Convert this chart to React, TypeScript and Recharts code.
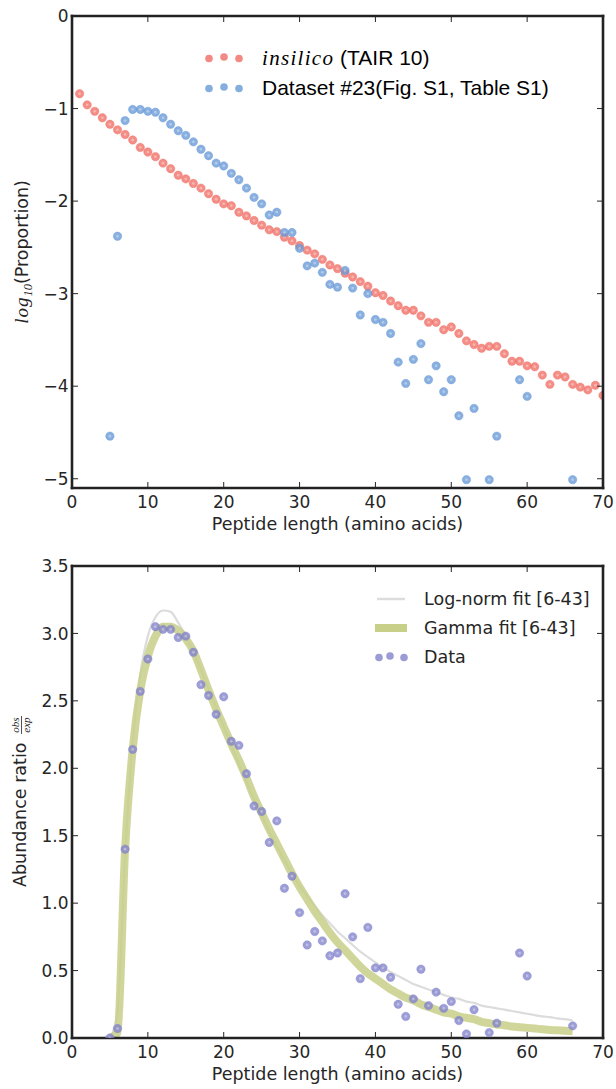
import React from 'react';
import {
  ScatterChart,
  ComposedChart,
  Scatter,
  Line,
  XAxis,
  YAxis,
  Legend,
  Label,
} from 'recharts';

const INK = '#262626';
const SANS = 'DejaVu Sans, sans-serif';
const RED = '#ef6d64';
const BLUE = '#6699d6';
const PURPLE = '#8282cc';
const GAMMA = '#c8cf88';
const LOGNORM = '#dcdcdc';

// ---- top panel: log10(proportion) by peptide length ----
const insilicoLengths = [
  1, 2, 3, 4, 5, 6, 7, 8, 9, 10, 11, 12, 13, 14, 15, 16, 17, 18, 19, 20,
  21, 22, 23, 24, 25, 26, 27, 28, 29, 30, 31, 32, 33, 34, 35, 36, 37, 38, 39, 40,
  41, 42, 43, 44, 45, 46, 47, 48, 49, 50, 51, 52, 53, 54, 55, 56, 57, 58, 59, 60,
  61, 62, 63, 64, 65, 66, 67, 68, 69, 70,
];
const insilicoLog = [
  -0.84, -0.96, -1.03, -1.1, -1.17, -1.23, -1.28, -1.34, -1.42, -1.47,
  -1.52, -1.59, -1.65, -1.72, -1.76, -1.81, -1.86, -1.92, -1.98, -2.03,
  -2.05, -2.12, -2.16, -2.21, -2.26, -2.31, -2.33, -2.39, -2.43, -2.48,
  -2.53, -2.57, -2.63, -2.69, -2.73, -2.78, -2.82, -2.87, -2.92, -2.99,
  -3.02, -3.08, -3.13, -3.18, -3.18, -3.24, -3.31, -3.31, -3.39, -3.36,
  -3.43, -3.51, -3.55, -3.59, -3.57, -3.57, -3.65, -3.73, -3.73, -3.78,
  -3.79, -3.88, -3.98, -3.88, -3.9, -3.98, -4.01, -4.04, -3.99, -4.1,
];

const datasetLengths = [
  5, 6, 7, 8, 9, 10, 11, 12, 13, 14, 15, 16, 17, 18, 19, 20, 21, 22, 23, 24,
  25, 26, 27, 28, 29, 30, 31, 32, 33, 34, 35, 36, 37, 38, 39, 40, 41, 42, 43, 44,
  45, 46, 47, 48, 49, 50, 51, 52, 53, 55, 56, 59, 60, 66,
];
const datasetLog = [
  -4.54, -2.38, -1.13, -1.01, -1.01, -1.03, -1.04, -1.1, -1.17, -1.24,
  -1.29, -1.36, -1.44, -1.51, -1.59, -1.62, -1.7, -1.77, -1.86, -1.96,
  -2.03, -2.15, -2.12, -2.34, -2.34, -2.51, -2.7, -2.67, -2.77, -2.9,
  -2.93, -2.75, -2.94, -3.23, -3.0, -3.28, -3.31, -3.43, -3.74, -3.97,
  -3.71, -3.54, -3.93, -3.78, -4.06, -3.93, -4.32, -5.01, -4.24, -5.01,
  -4.54, -3.93, -4.11, -5.01,
];

// ---- bottom panel: abundance ratio obs/exp ----
const ratioValues = [
  0.0, 0.07, 1.4, 2.14, 2.57, 2.81, 3.05, 3.03, 3.03, 2.97,
  2.98, 2.86, 2.62, 2.54, 2.4, 2.53, 2.2, 2.17, 1.96, 1.72,
  1.68, 1.45, 1.61, 1.11, 1.2, 0.93, 0.69, 0.79, 0.72, 0.61,
  0.63, 1.07, 0.75, 0.44, 0.82, 0.52, 0.52, 0.45, 0.25, 0.16,
  0.29, 0.51, 0.24, 0.34, 0.22, 0.27, 0.13, 0.03, 0.21, 0.04,
  0.11, 0.63, 0.46, 0.09,
];

const fitLengths = [
  5, 6, 7, 8, 9, 10, 11, 12, 13, 14, 15, 16, 17, 18, 19, 20, 21, 22, 23, 24,
  25, 26, 27, 28, 29, 30, 31, 32, 33, 34, 35, 36, 37, 38, 39, 40, 41, 42, 43, 44,
  45, 46, 47, 48, 49, 50, 51, 52, 53, 54, 55, 56, 57, 58, 59, 60, 61, 62, 63, 64,
  65, 66,
];
const gammaFit = [
  0.0, 0.04, 1.4, 2.14, 2.58, 2.83, 2.98, 3.05, 3.05, 3.02,
  2.96, 2.87, 2.73, 2.58, 2.44, 2.31, 2.18, 2.06, 1.93, 1.79,
  1.67, 1.55, 1.44, 1.33, 1.22, 1.12, 1.03, 0.94, 0.86, 0.78,
  0.71, 0.65, 0.59, 0.53, 0.48, 0.44, 0.4, 0.36, 0.33, 0.3,
  0.28, 0.25, 0.23, 0.21, 0.19, 0.18, 0.16, 0.15, 0.14, 0.12,
  0.11, 0.1, 0.095, 0.085, 0.08, 0.075, 0.07, 0.065, 0.06, 0.057,
  0.053, 0.05,
];
const lognormFit = [
  0.0, 0.2, 1.35, 2.2, 2.7, 2.98, 3.12, 3.17, 3.16, 3.08,
  2.98, 2.86, 2.73, 2.59, 2.45, 2.31, 2.17, 2.03, 1.9, 1.77,
  1.65, 1.53, 1.42, 1.32, 1.22, 1.13, 1.05, 0.98, 0.91, 0.85,
  0.79, 0.74, 0.69, 0.64, 0.6, 0.56, 0.52, 0.49, 0.46, 0.43,
  0.4, 0.38, 0.36, 0.34, 0.32, 0.3, 0.29, 0.27, 0.26, 0.24,
  0.23, 0.22, 0.21, 0.2, 0.19, 0.18, 0.17, 0.16, 0.155, 0.145,
  0.14, 0.13,
];

const xTicks = [0, 10, 20, 30, 40, 50, 60, 70];
const topYTicks = [0, -1, -2, -3, -4, -5];
const bottomYTicks = [0, 0.5, 1, 1.5, 2, 2.5, 3, 3.5];
const xDomain: [number, number] = [0, 70];
const topYDomain: [number, number] = [-5.1, 0];
const bottomYDomain: [number, number] = [0, 3.5];

const zip = (xs: number[], ys: number[]) => xs.map((x, i) => ({ x, y: ys[i] }));

const insilicoData = zip(insilicoLengths, insilicoLog);
const datasetData = zip(datasetLengths, datasetLog);
const ratioData = zip(datasetLengths, ratioValues);
const gammaData = zip(fitLengths, gammaFit);
const lognormData = zip(fitLengths, lognormFit);

const CHART_W = 616;
const PLOT_LEFT = 72;
const PLOT_RIGHT_GAP = 13;
const TOP_H = 540;
const TOP_MARGIN_1 = 16;
const X_AXIS_H_1 = 52;
const BOTTOM_H = 549;
const TOP_MARGIN_2 = 26;
const X_AXIS_H_2 = 51;
const TICK_LEN = 6;
const TICK_FONT = 17;
const SPINE = '#222';
const SPINE_W = 2.6;

// inward ticks, labels on bottom/left
const makeTick = (side: 'bottom' | 'left', fmt?: (v: number) => string) =>
  (props: any) => {
    const { x, y, payload } = props;
    const label = fmt ? fmt(payload.value) : payload.value;
    if (side === 'bottom') {
      return (
        <g>
          <line x1={x} x2={x} y1={y} y2={y - TICK_LEN} stroke={INK} strokeWidth={1} />
          <text x={x} y={y + 19.7} textAnchor="middle" fill={INK} fontSize={TICK_FONT} fontFamily={SANS}>
            {label}
          </text>
        </g>
      );
    }
    return (
      <g>
        <line x1={x} x2={x + TICK_LEN} y1={y} y2={y} stroke={INK} strokeWidth={1} />
        <text x={x - 3.5} y={y + 6.2} textAnchor="end" fill={INK} fontSize={TICK_FONT} fontFamily={SANS}>
          {label}
        </text>
      </g>
    );
  };

// top and right spines with inward ticks, laid over the plot box
const Frame = ({ top, bottom, yd, yTicks }: { top: number; bottom: number; yd: [number, number]; yTicks: number[] }) => {
  const left = PLOT_LEFT;
  const right = CHART_W - PLOT_RIGHT_GAP;
  const w = right - left;
  const h = bottom - top;
  const half = SPINE_W / 2;
  return (
    <svg
      width={CHART_W}
      height={bottom + 4}
      style={{ position: 'absolute', left: 0, top: 0, pointerEvents: 'none', overflow: 'visible' }}
    >
      <line x1={left - half} x2={right + half} y1={top} y2={top} stroke={SPINE} strokeWidth={SPINE_W} />
      <line x1={right} x2={right} y1={top - half} y2={bottom + half} stroke={SPINE} strokeWidth={SPINE_W} />
      {xTicks.slice(1, -1).map((t) => {
        const tx = left + (w * (t - xDomain[0])) / (xDomain[1] - xDomain[0]);
        return <line key={`t${t}`} x1={tx} x2={tx} y1={top} y2={top + TICK_LEN} stroke={INK} strokeWidth={1} />;
      })}
      {yTicks.map((t) => {
        const ty = bottom - (h * (t - yd[0])) / (yd[1] - yd[0]);
        return <line key={`r${t}`} x1={right} x2={right - TICK_LEN} y1={ty} y2={ty} stroke={INK} strokeWidth={1} />;
      })}
    </svg>
  );
};

const minusFmt = (v: number) => (v < 0 ? `\u2212${Math.abs(v)}` : `${v}`);
const oneDec = (v: number) => v.toFixed(1);

const spine = { stroke: SPINE, strokeWidth: SPINE_W, strokeLinecap: 'square' as const };

const dot = (color: string) => (props: any) => {
  const { cx, cy } = props;
  if (cx == null || cy == null) return <g />;
  return (
    <g>
      <circle cx={cx} cy={cy} r={4.2} fill={color} fillOpacity={0.78} stroke={color} strokeOpacity={0.4} strokeWidth={1} />
      <circle cx={cx} cy={cy} r={1.4} fill="#fff" fillOpacity={0.35} />
    </g>
  );
};

const LegendDots = ({ color }: { color: string }) => (
  <svg width={58} height={14} style={{ overflow: 'visible', flex: 'none' }}>
    <circle cx={5} cy={7.5} r={3.8} fill={color} fillOpacity={0.8} />
    <circle cx={20} cy={6} r={3.8} fill={color} fillOpacity={0.8} />
    <circle cx={35} cy={7.5} r={3.8} fill={color} fillOpacity={0.8} />
  </svg>
);

const TopLegend = () => (
  <div style={{ display: 'flex', flexDirection: 'column', color: '#000', fontFamily: 'Liberation Sans, Arial, sans-serif', fontSize: 21 }}>
    <div style={{ height: 30, display: 'flex', alignItems: 'center', whiteSpace: 'nowrap' }}>
      <LegendDots color={RED} />
      <span style={{ fontFamily: 'Liberation Serif, serif', fontStyle: 'italic', fontSize: 21, letterSpacing: 1.3 }}>insilico</span>
      <span>&nbsp;(TAIR 10)</span>
    </div>
    <div style={{ height: 30, display: 'flex', alignItems: 'center', whiteSpace: 'nowrap' }}>
      <LegendDots color={BLUE} />
      <span>Dataset #23(Fig. S1, Table S1)</span>
    </div>
  </div>
);

const BottomLegend = () => (
  <div style={{ display: 'flex', flexDirection: 'column', color: INK, fontFamily: SANS, fontSize: 17.5 }}>
    <div style={{ height: 29, display: 'flex', alignItems: 'center', whiteSpace: 'nowrap' }}>
      <svg width={49} height={10} style={{ flex: 'none' }}>
        <line x1={2} x2={30} y1={5} y2={5} stroke={LOGNORM} strokeWidth={2.5} />
      </svg>
      <span>Log-norm fit [6-43]</span>
    </div>
    <div style={{ height: 29, display: 'flex', alignItems: 'center', whiteSpace: 'nowrap' }}>
      <svg width={49} height={10} style={{ flex: 'none' }}>
        <rect x={0} y={1} width={32} height={8} fill={GAMMA} />
      </svg>
      <span>Gamma fit [6-43]</span>
    </div>
    <div style={{ height: 29, display: 'flex', alignItems: 'center', whiteSpace: 'nowrap' }}>
      <svg width={49} height={12} style={{ flex: 'none', overflow: 'visible' }}>
        <circle cx={4} cy={6.5} r={3.8} fill={PURPLE} fillOpacity={0.8} />
        <circle cx={15} cy={5} r={3.8} fill={PURPLE} fillOpacity={0.8} />
        <circle cx={29} cy={6.5} r={3.8} fill={PURPLE} fillOpacity={0.8} />
      </svg>
      <span>Data</span>
    </div>
  </div>
);

const xLabel = (props: any) => {
  const vb = props.viewBox || {};
  return (
    <text x={vb.x + vb.width / 2} y={vb.y + 42} textAnchor="middle" fill={INK} fontSize={17.5} fontFamily={SANS}>
      Peptide length (amino acids)
    </text>
  );
};

const topYLabel = (props: any) => {
  const vb = props.viewBox || {};
  const cy = vb.y + vb.height / 2;
  return (
    <g transform={`translate(28, ${cy}) rotate(-90)`}>
      <text x={0} y={0} textAnchor="middle" fill={INK} fontSize={17.5} fontFamily={SANS}>
        <tspan fontFamily="Liberation Serif, serif" fontStyle="italic" fontSize={19} letterSpacing={1}>log</tspan>
        <tspan fontFamily="Liberation Serif, serif" fontStyle="italic" fontSize={12.5} dy={4}>10</tspan>
        <tspan dy={-4}>(Proportion)</tspan>
      </text>
    </g>
  );
};

const bottomYLabel = (props: any) => {
  const vb = props.viewBox || {};
  const cy = vb.y + vb.height / 2;
  const u0 = -85;
  return (
    <g transform={`translate(26, ${cy}) rotate(-90)`} fill={INK} fontFamily={SANS}>
      <text x={u0} y={0} fontSize={17.5}>Abundance ratio</text>
      <text x={u0 + 162} y={-7} fontSize={11} textAnchor="middle" fontFamily="Liberation Serif, serif" fontStyle="italic">obs</text>
      <line x1={u0 + 153} x2={u0 + 171} y1={-4.5} y2={-4.5} stroke={INK} strokeWidth={0.8} />
      <text x={u0 + 162} y={4} fontSize={11} textAnchor="middle" fontFamily="Liberation Serif, serif" fontStyle="italic">exp</text>
    </g>
  );
};

const TopPanel = () => (
  <div style={{ position: 'relative', width: CHART_W, height: TOP_H }}>
    <ScatterChart width={CHART_W} height={TOP_H} margin={{ top: TOP_MARGIN_1, right: PLOT_RIGHT_GAP, bottom: 0, left: 0 }}>
      <XAxis
        type="number"
        dataKey="x"
        domain={xDomain}
        ticks={xTicks}
        height={X_AXIS_H_1}
        tickSize={0}
        tickMargin={0}
        tickLine={false}
        axisLine={spine}
        tick={makeTick('bottom')}
        allowDataOverflow
      >
        <Label content={xLabel} />
      </XAxis>
      <YAxis
        type="number"
        dataKey="y"
        domain={topYDomain}
        ticks={topYTicks}
        width={PLOT_LEFT}
        tickSize={0}
        tickMargin={0}
        tickLine={false}
        axisLine={spine}
        tick={makeTick('left', minusFmt)}
        allowDataOverflow
      >
        <Label content={topYLabel} />
      </YAxis>
      <Scatter name="insilico (TAIR 10)" data={insilicoData} shape={dot(RED)} isAnimationActive={false} />
      <Scatter name="Dataset #23(Fig. S1, Table S1)" data={datasetData} shape={dot(BLUE)} isAnimationActive={false} />
      <Legend
        layout="vertical"
        align="center"
        verticalAlign="middle"
        content={() => <TopLegend />}
        wrapperStyle={{ left: 204, top: 43, width: 390, height: 60 }}
      />
    </ScatterChart>
    <Frame top={TOP_MARGIN_1} bottom={TOP_H - X_AXIS_H_1} yd={topYDomain} yTicks={topYTicks} />
  </div>
);

const BottomPanel = () => (
  <div style={{ position: 'relative', width: CHART_W, height: BOTTOM_H }}>
    <ComposedChart width={CHART_W} height={BOTTOM_H} margin={{ top: TOP_MARGIN_2, right: PLOT_RIGHT_GAP, bottom: 0, left: 0 }}>
      <XAxis
        type="number"
        dataKey="x"
        domain={xDomain}
        ticks={xTicks}
        height={X_AXIS_H_2}
        tickSize={0}
        tickMargin={0}
        tickLine={false}
        axisLine={spine}
        tick={makeTick('bottom')}
        allowDataOverflow
      >
        <Label content={xLabel} />
      </XAxis>
      <YAxis
        type="number"
        domain={bottomYDomain}
        ticks={bottomYTicks}
        width={PLOT_LEFT}
        tickSize={0}
        tickMargin={0}
        tickLine={false}
        axisLine={spine}
        tick={makeTick('left', oneDec)}
        allowDataOverflow
      >
        <Label content={bottomYLabel} />
      </YAxis>
      <Line
        name="Log-norm fit [6-43]"
        data={lognormData}
        dataKey="y"
        type="monotone"
        stroke={LOGNORM}
        strokeWidth={2.2}
        dot={false}
        activeDot={false}
        isAnimationActive={false}
      />
      <Line
        name="Gamma fit [6-43]"
        data={gammaData}
        dataKey="y"
        type="monotone"
        stroke={GAMMA}
        strokeOpacity={0.85}
        strokeWidth={8}
        strokeLinecap="butt"
        dot={false}
        activeDot={false}
        isAnimationActive={false}
      />
      <Scatter name="Data" data={ratioData} dataKey="y" shape={dot(PURPLE)} isAnimationActive={false} />
      <Legend
        layout="vertical"
        align="center"
        verticalAlign="middle"
        content={() => <BottomLegend />}
        wrapperStyle={{ left: 375, top: 44.5, width: 225, height: 90 }}
      />
    </ComposedChart>
    <Frame top={TOP_MARGIN_2} bottom={BOTTOM_H - X_AXIS_H_2} yd={bottomYDomain} yTicks={bottomYTicks} />
  </div>
);

export default function App() {
  return (
    <div style={{ position: 'absolute', left: 0, top: 0, width: CHART_W, height: 1089, background: '#fff' }}>
      <TopPanel />
      <BottomPanel />
    </div>
  );
}
